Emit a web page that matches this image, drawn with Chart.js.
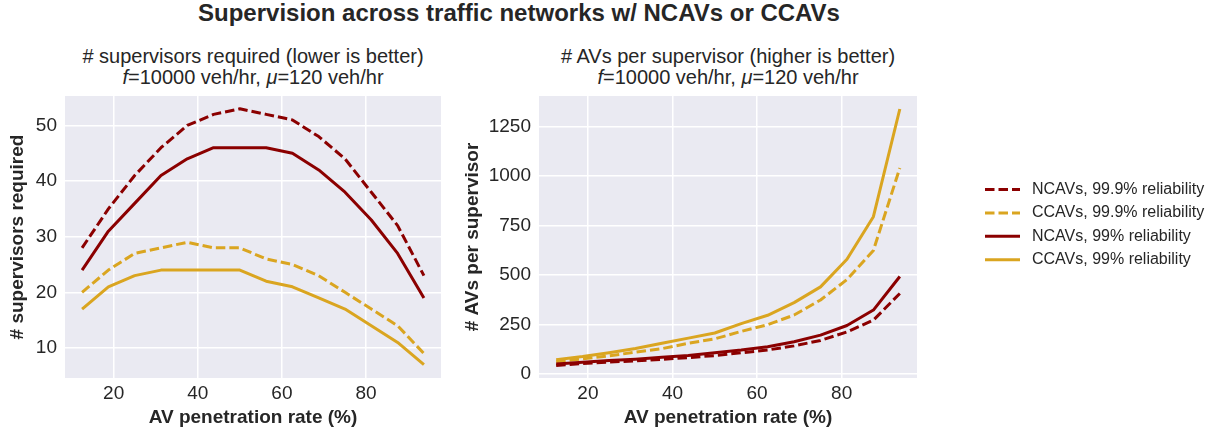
<!DOCTYPE html>
<html>
<head>
<meta charset="utf-8">
<script src="https://cdn.jsdelivr.net/npm/chart.js@4.4.1/dist/chart.umd.min.js"></script>
<style>
  body { margin: 0; background: #fff; width: 1220px; height: 437px; position: relative; overflow: hidden;
         font-family: "Liberation Sans", Arial, sans-serif; color: #262626; }
  .t { position: absolute; text-align: center; white-space: nowrap; }
  #main { left: 0; width: 1038px; top: 1px; font-size: 24px; font-weight: bold; line-height: 24px; }
  .sub { font-size: 20px; line-height: 20.5px; top: 46px; }
  #subL { left: 65px; width: 376px; }
  #subR { left: 539px; width: 378px; }
  #left { position: absolute; left: 0; top: 0; }
  #right { position: absolute; left: 455px; top: 0; }
</style>
</head>
<body>
<div id="main" class="t">Supervision across traffic networks w/ NCAVs or CCAVs</div>
<div id="subL" class="t sub"># supervisors required (lower is better)<br><i>f</i>=10000 veh/hr, <i>μ</i>=120 veh/hr</div>
<div id="subR" class="t sub"># AVs per supervisor (higher is better)<br><i>f</i>=10000 veh/hr, <i>μ</i>=120 veh/hr</div>
<canvas id="left" width="455" height="437"></canvas>
<canvas id="right" width="765" height="437"></canvas>
<script>
// AV penetration rate (%)
const penetration = [12.5, 18.75, 25, 31.25, 37.5, 43.75, 50, 56.25, 62.5, 68.75, 75, 81.25, 87.5, 93.75];

// # supervisors required
const ncav999Sup = [28, 35, 41, 46, 50, 52, 53, 52, 51, 48, 44, 38, 32, 23];
const ccav999Sup = [20, 24, 27, 28, 29, 28, 28, 26, 25, 23, 20, 17, 14, 9];
const ncav99Sup = [24, 31, 36, 41, 44, 46, 46, 46, 45, 42, 38, 33, 27, 19];
const ccav99Sup = [17, 21, 23, 24, 24, 24, 24, 22, 21, 19, 17, 14, 11, 7];

// # AVs per supervisor
const ncav999Per = [44.6, 53.6, 61.0, 67.9, 75.0, 84.1, 94.3, 108.2, 122.5, 143.2, 170.5, 213.8, 273.4, 407.6];
const ccav999Per = [62.5, 78.1, 92.6, 111.6, 129.3, 156.3, 178.6, 216.3, 250.0, 298.9, 375.0, 477.9, 625.0, 1041.7];
const ncav99Per = [52.1, 60.5, 69.4, 76.2, 85.2, 95.1, 108.7, 122.3, 138.9, 163.7, 197.4, 246.2, 324.1, 493.4];
const ccav99Per = [73.5, 89.3, 108.7, 130.2, 156.3, 182.3, 208.3, 255.7, 297.6, 361.8, 441.2, 580.4, 795.5, 1339.3];

const seriesLabels = ['NCAVs, 99.9% reliability', 'CCAVs, 99.9% reliability', 'NCAVs, 99% reliability', 'CCAVs, 99% reliability'];
const seriesColors = ['#8B0000', '#DAA520', '#8B0000', '#DAA520'];
const seriesDash = [[9.5, 4], [9.5, 4], [], []];

const xTicks = [20, 40, 60, 80];
const supTicks = [10, 20, 30, 40, 50];
const perTicks = [0, 250, 500, 750, 1000, 1250];

const FONT = '"Liberation Sans", Arial, sans-serif';
const TXT = '#262626';
Chart.defaults.font.family = FONT;

function makeDatasets(values) {
    return values.map((vals, i) => ({
        label: seriesLabels[i],
        data: vals.map((v, j) => ({x: penetration[j], y: v})),
        borderColor: seriesColors[i],
        borderDash: seriesDash[i],
        borderWidth: 3,
        borderJoinStyle: 'round',
        pointRadius: 0,
        tension: 0,
        order: values.length - 1 - i
    }));
}

const plotBg = {
    id: 'plotBg',
    beforeDraw(chart) {
        const {ctx, chartArea: a} = chart;
        ctx.save();
        ctx.fillStyle = '#EAEAF2';
        ctx.fillRect(a.left, a.top, a.width, a.height);
        ctx.restore();
    }
};

const sideLegend = {
    id: 'sideLegend',
    afterDraw(chart) {
        const ctx = chart.ctx;
        ctx.save();
        ctx.font = '16px ' + FONT;
        ctx.textBaseline = 'middle';
        chart.data.datasets.forEach((ds, i) => {
            const y = 189.5 + i * 23.4;
            ctx.strokeStyle = ds.borderColor;
            ctx.lineWidth = 3;
            ctx.setLineDash(ds.borderDash);
            ctx.beginPath();
            ctx.moveTo(530, y);
            ctx.lineTo(565, y);
            ctx.stroke();
            ctx.fillStyle = TXT;
            ctx.fillText(ds.label, 577, y);
        });
        ctx.restore();
    }
};

function makeScales(yTitle, yMin, yMax, yTicks, yWidth) {
    return {
        x: {
            type: 'linear',
            min: 8.44,
            max: 97.81,
            afterBuildTicks: s => { s.ticks = xTicks.map(v => ({value: v})); },
            afterFit: s => { s.height = 59; },
            grid: {color: '#ffffff', lineWidth: 1.5, drawTicks: false},
            border: {display: false},
            ticks: {color: TXT, font: {size: 19}, padding: 4, callback: v => String(v)},
            title: {display: true, text: 'AV penetration rate (%)', color: TXT,
                    font: {size: 19, weight: 'bold'}, padding: {top: 0, bottom: 8}}
        },
        y: {
            type: 'linear',
            min: yMin,
            max: yMax,
            afterBuildTicks: s => { s.ticks = yTicks.map(v => ({value: v})); },
            afterFit: s => { s.width = yWidth; },
            grid: {color: '#ffffff', lineWidth: 1.5, drawTicks: false},
            border: {display: false},
            ticks: {color: TXT, font: {size: 19}, padding: 8, callback: v => String(v)},
            title: {display: true, text: yTitle, color: TXT,
                    font: {size: 19, weight: 'bold'}, padding: {top: 6, bottom: 0}}
        }
    };
}

new Chart(document.getElementById('left'), {
    type: 'line',
    data: {datasets: makeDatasets([ncav999Sup, ccav999Sup, ncav99Sup, ccav99Sup])},
    options: {
        responsive: false,
        animation: false,
        layout: {padding: {top: 96, right: 14, bottom: 0, left: 0}},
        plugins: {legend: {display: false}, tooltip: {enabled: false}},
        scales: makeScales('# supervisors required', 4.6, 55.3, supTicks, 65)
    },
    plugins: [plotBg]
});

new Chart(document.getElementById('right'), {
    type: 'line',
    data: {datasets: makeDatasets([ncav999Per, ccav999Per, ncav99Per, ccav99Per])},
    options: {
        responsive: false,
        animation: false,
        layout: {padding: {top: 96, right: 303, bottom: 0, left: 0}},
        plugins: {legend: {display: false}, tooltip: {enabled: false}},
        scales: makeScales('# AVs per supervisor', -19, 1405, perTicks, 84)
    },
    plugins: [plotBg, sideLegend]
});
</script>
</body>
</html>
